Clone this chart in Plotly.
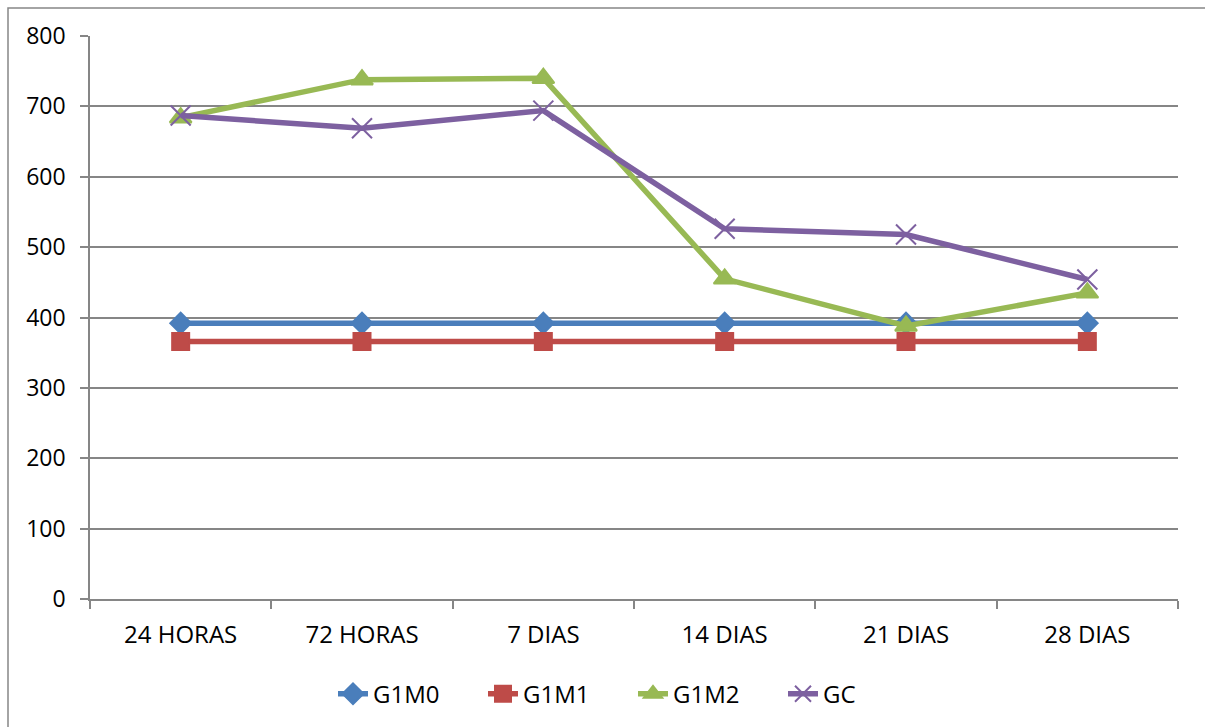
import plotly.graph_objects as go

categories = ["24 HORAS", "72 HORAS", "7 DIAS", "14 DIAS", "21 DIAS", "28 DIAS"]
g1m0 = [392, 392, 392, 392, 392, 392]
g1m1 = [366, 366, 366, 366, 366, 366]
g1m2 = [684, 738, 740, 455, 388, 435]
gc = [687, 669, 694, 526, 518, 454]

series = [
    ("G1M0", g1m0, "#4A7EBB", "diamond", 16, 2),
    ("G1M1", g1m1, "#BE4B48", "square", 17, 2),
    ("G1M2", g1m2, "#98B954", "triangle-up", 19, 2),
    ("GC", gc, "#7D60A0", "x-thin-open", 20, 2),
]

fig = go.Figure()
for name, vals, color, symbol, size, lw in series:
    fig.add_trace(go.Scatter(
        x=categories, y=vals, name=name, mode="lines+markers",
        line=dict(color=color, width=5.5),
        marker=dict(symbol=symbol, size=size, color=color,
                    line=dict(color=color, width=lw)),
    ))

fig.update_layout(
    width=1205, height=727,
    margin=dict(l=90, r=27, t=36, b=127),
    paper_bgcolor="white", plot_bgcolor="white",
    font=dict(family="Open Sans, Lato, sans-serif", size=22, color="black"),
    showlegend=True,
    legend=dict(orientation="h", x=(333 - 90) / 1088, xanchor="left", y=-0.167,
                yanchor="middle", font=dict(size=24), entrywidth=105,
                entrywidthmode="pixels", traceorder="normal"),
    xaxis=dict(type="category", range=[-0.5, 5.5], showgrid=False, showline=True,
               linecolor="#868686", linewidth=1.5, ticks="outside",
               tickson="boundaries", ticklen=8, tickcolor="#868686", tickwidth=1.5,
               tickfont=dict(size=24), ticklabelstandoff=13),
    yaxis=dict(range=[0, 800], dtick=100, showgrid=True, gridcolor="#868686",
               gridwidth=1.5, showline=True, linecolor="#868686", linewidth=1.5,
               ticks="outside", ticklen=8, tickcolor="#868686", tickwidth=1.5,
               tickfont=dict(size=23), zeroline=False, ticklabelstandoff=10),
    shapes=[dict(type="rect", xref="paper", yref="paper",
                 x0=(8 - 90) / 1088, x1=1.2, y0=-0.5, y1=1 + (36 - 8) / 564,
                 line=dict(color="#868686", width=1.5), layer="below")],
)

fig.write_html("out.html")
